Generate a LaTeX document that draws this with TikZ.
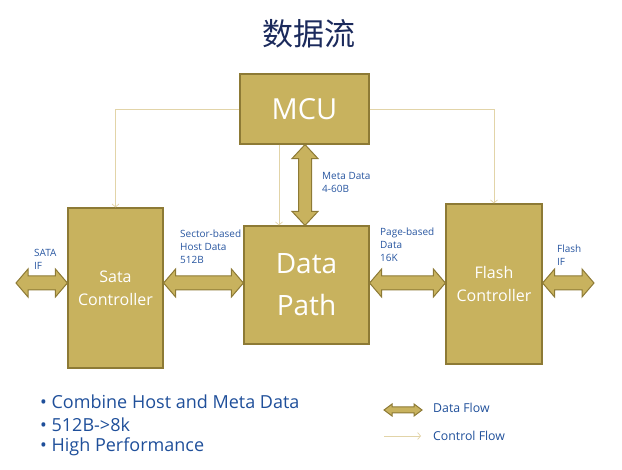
\documentclass[tikz,border=0pt]{standalone}
\usepackage{fontspec}
\setmainfont{Open Sans}
\newfontfamily\cjk{Noto Sans CJK SC}
\usetikzlibrary{calc,arrows.meta}

% point at distance #3 from #1 towards #2, moved #4 sideways (angle #5)
\newcommand{\fpt}[5]{($($(#1)!#3!(#2)$)!#4!#5:(#2)$)}
% fat double arrow from #1 to #2: head length #3, head half width #4, shaft half width #5
\newcommand{\flowarrow}[5]{%
  \filldraw[flow] (#1) -- \fpt{#1}{#2}{#3}{#4}{90} -- \fpt{#1}{#2}{#3}{#5}{90}
    -- \fpt{#2}{#1}{#3}{#5}{270} -- \fpt{#2}{#1}{#3}{#4}{270} -- (#2)
    -- \fpt{#2}{#1}{#3}{#4}{90} -- \fpt{#2}{#1}{#3}{#5}{90}
    -- \fpt{#1}{#2}{#3}{#5}{270} -- \fpt{#1}{#2}{#3}{#4}{270} -- cycle;}

\begin{document}
\begin{tikzpicture}[x=1pt,y=-1pt,
    block/.style={draw=goldline, fill=gold, line width=1.2pt, inner sep=0pt, text=white, align=center},
    flow/.style={draw=goldline, fill=gold, line width=1pt, line join=miter},
    ctrl/.style={draw=ctrlline, line width=0.7pt, -{Straight Barb[length=3pt,width=7pt]}},
    lbl/.style={anchor=north west, inner sep=0pt, align=left, text=lblblue, font=\fontsize{10}{13}\selectfont},
    bullet/.style={anchor=west, inner sep=0pt, text=txtblue, font=\fontsize{18}{20}\selectfont},
    legend/.style={anchor=west, inner sep=0pt, text=txtblue, font=\fontsize{12.3}{14}\selectfont}]
  \definecolor{gold}{RGB}{200,178,94};
  \definecolor{goldline}{RGB}{141,122,53};
  \definecolor{ctrlline}{RGB}{226,212,168};
  \definecolor{lblblue}{RGB}{40,86,160};
  \definecolor{txtblue}{RGB}{31,79,154};
  \definecolor{titlenavy}{RGB}{27,42,92};
  \useasboundingbox (0,0) rectangle (622,470);

  \node[text=titlenavy, font=\cjk\fontsize{31}{34}\selectfont] (title) at (309,34) {数据流};

  % blocks
  \node[block, minimum width=129pt, minimum height=70pt, font=\fontsize{29}{32}\selectfont] (mcu) at (304.5,109) {MCU};
  \node[block, minimum width=95pt, minimum height=160pt, font=\fontsize{16}{23}\selectfont] (sata) at (115.5,288) {Sata\\Controller};
  \node[block, minimum width=125pt, minimum height=118pt, font=\fontsize{28}{42}\selectfont] (dpath) at (306.5,285) {Data\\Path};
  \node[block, minimum width=96pt, minimum height=160pt, font=\fontsize{16}{23}\selectfont] (flash) at (494,284) {Flash\\Controller};

  % control flow
  \coordinate (ctl) at (279,0);
  \draw[ctrl] (mcu.west) -| (sata.north);
  \draw[ctrl] (mcu.east) -| (flash.north);
  \draw[ctrl] (mcu.south -| ctl) -- (dpath.north -| ctl);

  % data flow
  \coordinate (bus) at (0,283);
  \coordinate (meta) at (305,0);
  \coordinate (sataif) at (16,283);
  \coordinate (flashif) at (594,283);
  \flowarrow{sataif}{sata.west |- bus}{12pt}{14pt}{7pt}
  \flowarrow{sata.east |- bus}{dpath.west |- bus}{12pt}{14pt}{7pt}
  \flowarrow{dpath.east |- bus}{flash.west |- bus}{12pt}{14pt}{7pt}
  \flowarrow{flash.east |- bus}{flashif}{12pt}{14pt}{7pt}
  \flowarrow{mcu.south -| meta}{dpath.north -| meta}{14pt}{13pt}{6.5pt}

  % labels
  \node[lbl] (lmeta) at (322,172) {Meta Data\\4-60B};
  \node[lbl] (lsector) at (180,230) {Sector-based\\Host Data\\512B};
  \node[lbl] (lpage) at (380,228) {Page-based\\Data\\16K};
  \node[lbl] (lsata) at (34,249) {SATA\\IF};
  \node[lbl] (lflash) at (557,245) {Flash\\IF};

  % notes
  \node[bullet] (b1) at (40,402) {• Combine Host and Meta Data};
  \node[bullet] (b2) at (40,425) {• 512B->8k};
  \node[bullet] (b3) at (40,447) {• High Performance};

  % legend
  \coordinate (lg1) at (384,410);
  \coordinate (lg2) at (422,410);
  \coordinate (lg3) at (384,436);
  \coordinate (lg4) at (421,436);
  \flowarrow{lg1}{lg2}{8pt}{6pt}{3pt}
  \draw[ctrl] (lg3) -- (lg4);
  \node[legend] (ldata) at (433,408) {Data Flow};
  \node[legend] (lctrl) at (433,436) {Control Flow};
\end{tikzpicture}
\end{document}
